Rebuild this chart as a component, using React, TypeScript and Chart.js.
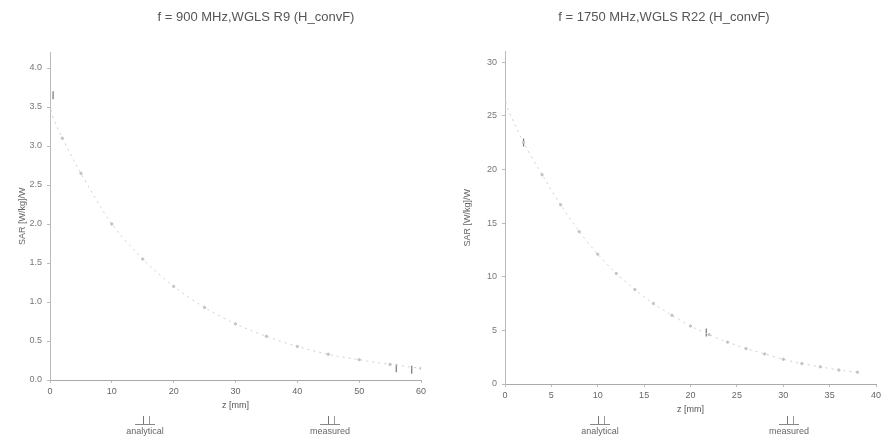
import React, { useEffect, useRef } from "react";
import { Chart, registerables } from "chart.js";
Chart.register(...registerables);

// ---- Left chart: f = 900 MHz ----
const leftTitle = "f = 900 MHz,WGLS R9 (H_convF)";
const leftZ = [0, 2, 5, 10, 15, 20, 25, 30, 35, 40, 45, 50, 55, 60];
const leftAnalytical = [3.45, 3.1, 2.65, 2.0, 1.55, 1.2, 0.93, 0.72, 0.56, 0.43, 0.33, 0.26, 0.2, 0.15];
const leftMeasuredZ = [0.5, 56, 58.5];
const leftMeasured = [3.65, 0.15, 0.13];
const leftYTicks = [0, 0.5, 1.0, 1.5, 2.0, 2.5, 3.0, 3.5, 4.0];
const leftXTicks = [0, 10, 20, 30, 40, 50, 60];

// ---- Right chart: f = 1750 MHz ----
const rightTitle = "f = 1750 MHz,WGLS R22 (H_convF)";
const rightZ = [0, 2, 4, 6, 8, 10, 12, 14, 16, 18, 20, 22, 24, 26, 28, 30, 32, 34, 36, 38];
const rightAnalytical = [26.2, 22.5, 19.5, 16.7, 14.2, 12.1, 10.3, 8.8, 7.5, 6.4, 5.4, 4.6, 3.9, 3.3, 2.8, 2.3, 1.9, 1.6, 1.3, 1.1];
const rightMeasuredZ = [2, 21.7];
const rightMeasured = [22.5, 4.8];
const rightYTicks = [0, 5, 10, 15, 20, 25, 30];
const rightXTicks = [0, 5, 10, 15, 20, 25, 30, 35, 40];

const legendLabels = ["analytical", "measured"];
const yTitle = "SAR [W/kg]/W";
const xTitle = "z [mm]";

const FONT = "'Liberation Sans', Arial, sans-serif";

type Cfg = {
  z: number[];
  analytical: number[];
  mz: number[];
  measured: number[];
  yTicks: number[];
  xTicks: number[];
  yMax: number;
  xMax: number;
  decimals: number;
  yAxisWidth: number;
  padRight: number;
  padBottom: number;
  padTop: number;
};

function ChartBox({ cfg }: { cfg: Cfg }) {
  const ref = useRef<HTMLCanvasElement>(null);
  useEffect(() => {
    if (!ref.current) return;
    const chart = new Chart(ref.current, {
      type: "scatter",
      data: {
        datasets: [
          {
            label: legendLabels[0],
            data: cfg.z.map((x, i) => ({ x, y: cfg.analytical[i] })),
            showLine: true,
            borderColor: "#cfcfcf",
            borderWidth: 1,
            borderDash: [2, 4],
            pointRadius: 1.2,
            pointBackgroundColor: "#c4c4c4",
            pointBorderColor: "#c4c4c4",
            tension: 0.3,
          },
          {
            label: legendLabels[1],
            data: cfg.mz.map((x, i) => ({ x, y: cfg.measured[i] })),
            showLine: false,
            pointStyle: "line",
            rotation: 90,
            pointRadius: 4,
            borderWidth: 1.2,
            pointBorderColor: "#777777",
            pointBackgroundColor: "#777777",
          },
        ],
      },
      options: {
        animation: false,
        responsive: false,
        layout: { padding: { left: 0, right: cfg.padRight, top: cfg.padTop, bottom: cfg.padBottom } },
        plugins: {
          legend: { display: false },
          tooltip: { enabled: false },
          title: { display: false },
        },
        scales: {
          x: {
            type: "linear",
            min: 0,
            max: cfg.xMax,
            afterBuildTicks: (a: any) => {
              a.ticks = cfg.xTicks.map((v) => ({ value: v }));
            },
            afterFit: (s: any) => {
              s.height = 31;
            },
            ticks: { color: "#666", font: { family: FONT, size: 9 }, padding: 3, maxRotation: 0 },
            grid: { display: true, drawOnChartArea: false, drawTicks: true, tickLength: 3, color: "#bbb" },
            border: { display: true, color: "#aaa", width: 1 },
            title: { display: true, text: xTitle, color: "#555", font: { family: FONT, size: 9 }, padding: { top: 1, bottom: 0 } },
          },
          y: {
            type: "linear",
            min: 0,
            max: cfg.yMax,
            afterBuildTicks: (a: any) => {
              a.ticks = cfg.yTicks.map((v) => ({ value: v }));
            },
            afterFit: (s: any) => {
              s.width = cfg.yAxisWidth;
            },
            ticks: {
              color: "#777",
              font: { family: FONT, size: 9 },
              padding: 5,
              callback: (v: any) => Number(v).toFixed(cfg.decimals),
            },
            grid: { display: true, drawOnChartArea: false, drawTicks: true, tickLength: 3, color: "#bbb" },
            border: { display: true, color: "#bbb", width: 1 },
            title: { display: true, text: yTitle, color: "#666", font: { family: FONT, size: 9 }, padding: { top: 17, bottom: 0 } },
          },
        },
      },
    } as any);
    return () => chart.destroy();
  }, [cfg]);
  return <canvas ref={ref} width={444} height={444} style={{ display: "block", width: 444, height: 444 }} />;
}

function Title({ cx, text }: { cx: number; text: string }) {
  return (
    <div
      style={{
        position: "absolute",
        left: cx - 150,
        top: 9,
        width: 300,
        textAlign: "center",
        fontFamily: FONT,
        fontSize: 13,
        lineHeight: "16px",
        color: "#555",
        whiteSpace: "nowrap",
      }}
    >
      {text}
    </div>
  );
}

function LegendItem({ x, label }: { x: number; label: string }) {
  return (
    <div
      style={{
        position: "absolute",
        left: x - 40,
        top: 414,
        width: 80,
        textAlign: "center",
        fontFamily: FONT,
        fontSize: 9,
        color: "#666",
        lineHeight: "10px",
      }}
    >
      <div style={{ position: "relative", height: 12 }}>
        <div style={{ position: "absolute", left: 30, right: 30, top: 10, borderTop: "1px solid #888" }} />
        <div style={{ position: "absolute", left: 38, top: 2, width: 1, height: 8, background: "#777" }} />
        <div style={{ position: "absolute", left: 44, top: 2, width: 1, height: 8, background: "#999" }} />
      </div>
      <div>{label}</div>
    </div>
  );
}

const leftCfg: Cfg = {
  z: leftZ,
  analytical: leftAnalytical,
  mz: leftMeasuredZ,
  measured: leftMeasured,
  yTicks: leftYTicks,
  xTicks: leftXTicks,
  yMax: 4.2,
  xMax: 60,
  decimals: 1,
  yAxisWidth: 50,
  padRight: 23,
  padBottom: 33,
  padTop: 52.4,
};

const rightCfg: Cfg = {
  z: rightZ,
  analytical: rightAnalytical,
  mz: rightMeasuredZ,
  measured: rightMeasured,
  yTicks: rightYTicks,
  xTicks: rightXTicks,
  yMax: 31,
  xMax: 40,
  decimals: 0,
  yAxisWidth: 60,
  padRight: 13,
  padBottom: 29,
  padTop: 51.3,
};

export default function App() {
  return (
    <div style={{ position: "absolute", left: 0, top: 0, width: 889, height: 444, background: "#fff", overflow: "hidden" }}>
      <div style={{ position: "absolute", left: 0, top: 0 }}>
        <ChartBox cfg={leftCfg} />
      </div>
      <div style={{ position: "absolute", left: 445, top: 0 }}>
        <ChartBox cfg={rightCfg} />
      </div>
      <Title cx={256} text={leftTitle} />
      <Title cx={664} text={rightTitle} />
      <LegendItem x={145} label={legendLabels[0]} />
      <LegendItem x={330} label={legendLabels[1]} />
      <LegendItem x={600} label={legendLabels[0]} />
      <LegendItem x={789} label={legendLabels[1]} />
    </div>
  );
}
